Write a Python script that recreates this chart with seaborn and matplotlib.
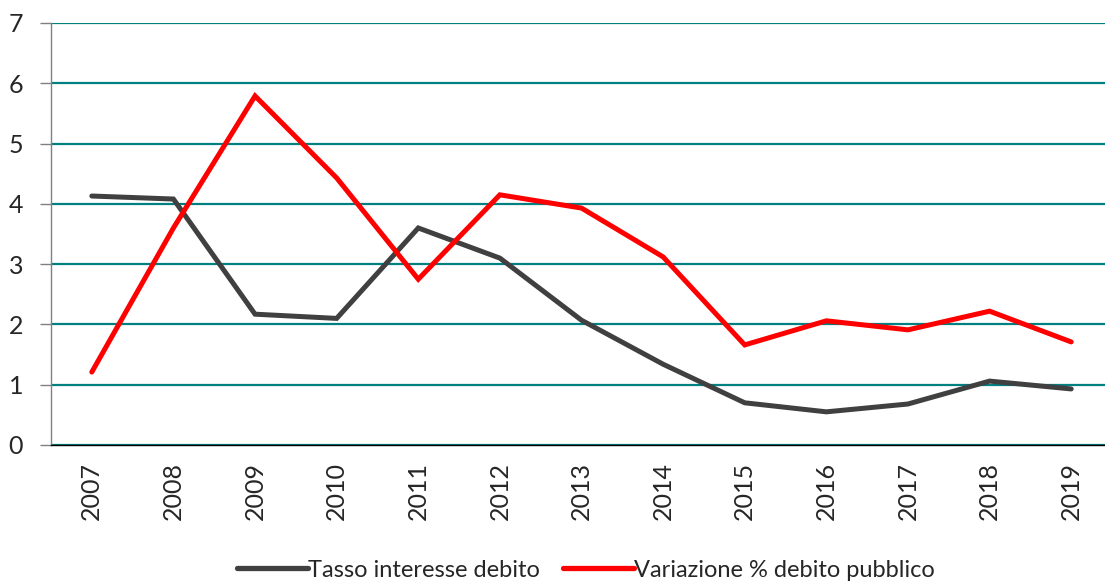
import matplotlib
matplotlib.use("Agg")
import matplotlib.pyplot as plt
import seaborn as sns
import pandas as pd
from matplotlib.ticker import FixedLocator

years = ["2007", "2008", "2009", "2010", "2011", "2012", "2013",
         "2014", "2015", "2016", "2017", "2018", "2019"]
tasso = [4.13, 4.08, 2.17, 2.10, 3.60, 3.10, 2.07, 1.34, 0.70, 0.55, 0.68, 1.06, 0.93]
variazione = [1.21, 3.60, 5.79, 4.43, 2.75, 4.15, 3.93, 3.12, 1.66, 2.06, 1.91, 2.22, 1.71]
series_names = ["Tasso interesse debito", "Variazione % debito pubblico"]
yticks = [0, 1, 2, 3, 4, 5, 6, 7]

df = pd.DataFrame({
    "Anno": years * 2,
    "Valore": tasso + variazione,
    "Serie": [series_names[0]] * len(years) + [series_names[1]] * len(years),
})

sns.set_style("white")
plt.rcParams["font.family"] = ["Lato", "DejaVu Sans"]

fig = plt.figure(figsize=(11.05, 5.83), dpi=100)
ax = fig.add_axes([51 / 1105, 138 / 583, 1061 / 1105, 422 / 583])

sns.lineplot(data=df, x="Anno", y="Valore", hue="Serie", sort=False,
             palette={series_names[0]: "#404040", series_names[1]: "#FF0000"},
             linewidth=3.6, ax=ax, legend=True)
for ln in ax.lines:
    ln.set_solid_capstyle("round")
    ln.set_solid_joinstyle("miter")

ax.set_xlim(-0.5, len(years) - 0.5)
ax.set_ylim(0, 7)
ax.set_yticks(yticks)
ax.set_yticklabels([str(v) for v in yticks], fontsize=18)
ax.set_xticks(range(len(years)))
ax.set_xticklabels(years, rotation=90, fontsize=18)
ax.xaxis.set_minor_locator(FixedLocator([i - 0.5 for i in range(len(years) + 1)]))
ax.tick_params(axis="x", which="major", length=0, pad=12)
ax.tick_params(axis="x", which="minor", length=8, color="#808080", width=1, direction="out")
ax.tick_params(axis="y", length=8, color="#808080", width=1, direction="out", pad=12, left=True)
ax.set_xlabel("")
ax.set_ylabel("")

ax.grid(axis="y", color="#008080", linewidth=1.6)
ax.grid(axis="x", visible=False)
ax.set_axisbelow(True)
for s in ["top", "right"]:
    ax.spines[s].set_visible(False)
ax.spines["left"].set_color("#808080")
ax.spines["left"].set_linewidth(1)
ax.spines["bottom"].set_color("#000000")
ax.spines["bottom"].set_linewidth(1)
ax.spines["bottom"].set_zorder(3)

ax.legend_.remove()
handles, labels = ax.get_legend_handles_labels()
leg = fig.legend(handles, labels, loc="center", bbox_to_anchor=(0.53, 0.022),
                 ncol=2, frameon=False, fontsize=17, handlelength=3.0,
                 handletextpad=0.0, columnspacing=1.0)
for h in leg.get_lines():
    h.set_linewidth(3.8)

fig.savefig("out.png", dpi=100)
